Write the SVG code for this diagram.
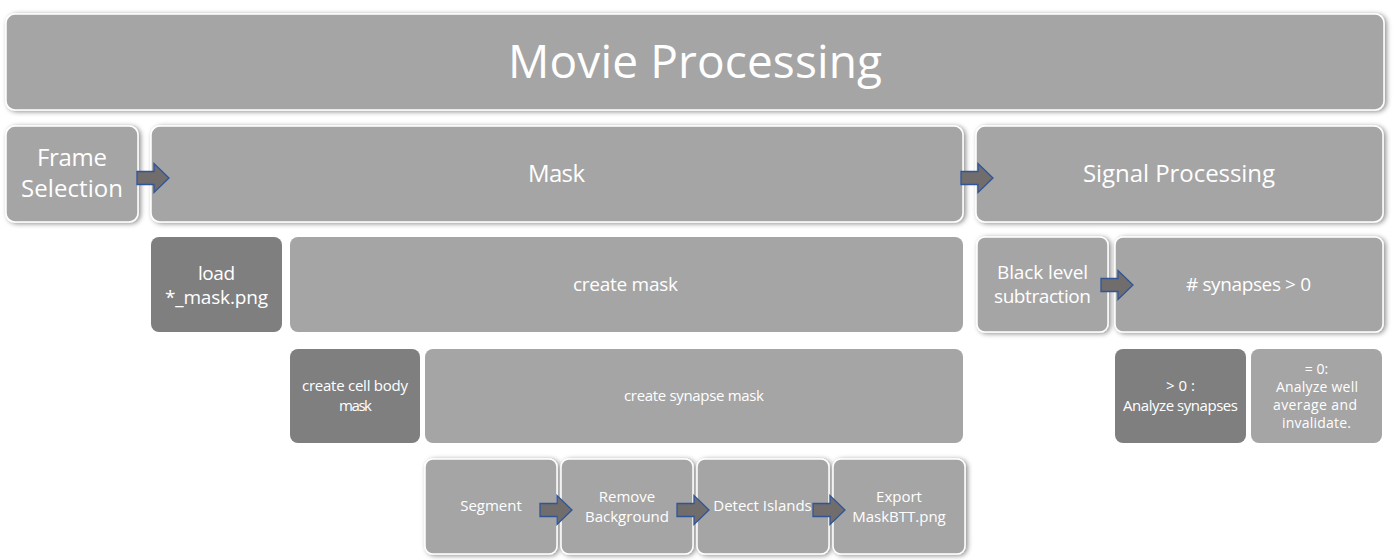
<svg xmlns="http://www.w3.org/2000/svg" width="1394" height="560" viewBox="0 0 1394 560">
<defs>
<filter id="sh" x="-10%" y="-20%" width="120%" height="140%">
<feDropShadow dx="2" dy="1" stdDeviation="2.5" flood-color="#000" flood-opacity="0.45"/>
</filter>
<path id="arr" d="M0,-6.5 H17 V-14.5 L32,0 L17,14.5 V6.5 H0 Z"/>
</defs>
<style>
.box{fill:#a5a5a5;stroke:#ffffff;stroke-width:1.5;filter:url(#sh)}
.flat{fill:#a5a5a5}
.dark{fill:#7f7f7f}
text{font-family:"Open Sans","Noto Sans","Liberation Sans",sans-serif;fill:#ffffff;text-anchor:middle}
.t1{font-size:46px}
.t2{font-size:24px}
.t3{font-size:19px}
.t4{font-size:15px}
.t5{font-size:14px}
.a{fill:#716d6d;stroke:#2f5597;stroke-width:1.3}
</style>
<rect width="1394" height="560" fill="#ffffff"/>
<g id="movie-processing"><rect class="box" x="6" y="14" width="1378" height="96" rx="9"/><text class="t1" x="695" y="78" textLength="374">Movie Processing</text></g>
<g id="frame-selection"><rect class="box" x="6" y="126" width="132" height="96" rx="9"/><text class="t2" x="72" y="166" textLength="70">Frame</text><text class="t2" x="72" y="197" textLength="102">Selection</text></g>
<g id="mask"><rect class="box" x="151" y="126" width="812" height="96" rx="9"/><text class="t2" x="556.5" y="182" textLength="57">Mask</text></g>
<g id="signal-processing"><rect class="box" x="976" y="126" width="407" height="96" rx="9"/><text class="t2" x="1179" y="182" textLength="192">Signal Processing</text></g>
<g id="load-mask"><rect class="dark" x="151" y="237" width="131" height="95" rx="8"/><text class="t3" x="216.5" y="280" textLength="37">load</text><text class="t3" x="216.5" y="304" textLength="103">*_mask.png</text></g>
<g id="create-mask"><rect class="flat" x="290" y="237" width="673" height="95" rx="8"/><text class="t3" x="625.5" y="291" textLength="105">create mask</text></g>
<g id="black-level"><rect class="box" x="977" y="237" width="131" height="95" rx="8"/><text class="t3" x="1042.5" y="279" textLength="91">Black level</text><text class="t3" x="1042.5" y="303" textLength="97">subtraction</text></g>
<g id="num-synapses"><rect class="box" x="1115" y="237" width="268" height="95" rx="8"/><text class="t3" x="1248.5" y="291" textLength="125"># synapses &gt; 0</text></g>
<g id="cell-body-mask"><rect class="dark" x="290" y="349" width="130" height="94" rx="8"/><text class="t4" x="355" y="391" textLength="106">create cell body</text><text class="t4" x="355.5" y="411" textLength="33">mask</text></g>
<g id="synapse-mask"><rect class="flat" x="425" y="349" width="538" height="94" rx="8"/><text class="t4" x="694" y="401" textLength="140">create synapse mask</text></g>
<g id="analyze-synapses"><rect class="dark" x="1115" y="349" width="131" height="94" rx="8"/><text class="t4" x="1180.5" y="391">&gt; 0 :</text><text class="t4" x="1180.5" y="411" textLength="115">Analyze synapses</text></g>
<g id="analyze-well"><rect class="flat" x="1251" y="349" width="131" height="94" rx="8"/><text class="t5" x="1316.5" y="374">= 0:</text><text class="t5" x="1317" y="392" textLength="82">Analyze well</text><text class="t5" x="1315" y="410" textLength="84">average and</text><text class="t5" x="1316.5" y="428" textLength="69">invalidate.</text></g>
<g id="segment"><rect class="box" x="425" y="459" width="132" height="95" rx="8"/><text class="t4" x="491" y="511">Segment</text></g>
<g id="remove-background"><rect class="box" x="561" y="459" width="132" height="95" rx="8"/><text class="t4" x="627" y="502">Remove</text><text class="t4" x="627" y="522">Background</text></g>
<g id="detect-islands"><rect class="box" x="697" y="459" width="132" height="95" rx="8"/><text class="t4" x="762.5" y="511">Detect Islands</text></g>
<g id="export-mask"><rect class="box" x="833" y="459" width="132" height="95" rx="8"/><text class="t4" x="899" y="502">Export</text><text class="t4" x="899" y="522">MaskBTT.png</text></g>
<g id="connectors">
<use href="#arr" class="a" transform="translate(137,178)"/>
<use href="#arr" class="a" transform="translate(961,178)"/>
<use href="#arr" class="a" transform="translate(1101,285)"/>
<use href="#arr" class="a" transform="translate(540,510)"/>
<use href="#arr" class="a" transform="translate(677,510)"/>
<use href="#arr" class="a" transform="translate(813,510)"/>
</g>
</svg>
